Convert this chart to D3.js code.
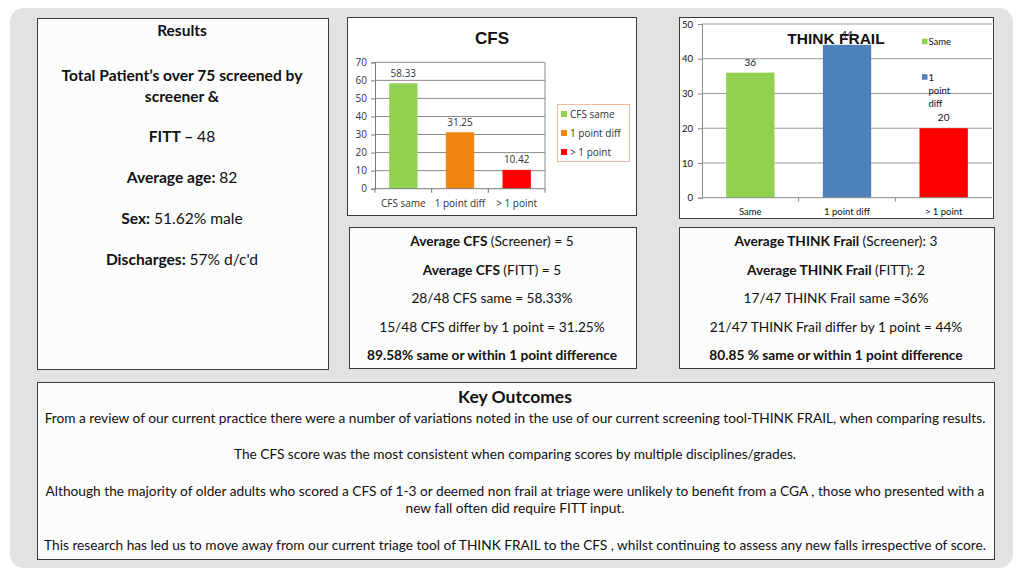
<!DOCTYPE html>
<html>
<head>
<meta charset="utf-8">
<script src="https://cdn.jsdelivr.net/npm/d3@7/dist/d3.min.js"></script>
<style>
  html, body { margin: 0; padding: 0; background: #fff; }
  svg { display: block; }
  .cal { font-family: Lato, "Open Sans", sans-serif; fill: #111; }
  .gothic { font-family: "Open Sans", "DejaVu Sans", sans-serif; fill: #333; }
</style>
</head>
<body>
<svg id="chart" width="1024" height="576"></svg>
<script>
// ---------- DATA ----------
const cfsCategories = ["CFS same", "1 point diff", "> 1 point"];
const cfsValues = [58.33, 31.25, 10.42];
const cfsTicks = [0, 10, 20, 30, 40, 50, 60, 70];
const cfsLegend = ["CFS same", "1 point diff", "> 1 point"];

const tfCategories = ["Same", "1 point diff", "> 1 point"];
const tfValues = [36, 44, 20];
const tfTicks = [0, 10, 20, 30, 40, 50];
const tfLegend = [["Same"], ["1", "point", "diff"]];

const resultsLines = [
  [{ b: true, t: "Total Patient\u2019s over 75 screened by" }],
  [{ b: true, t: "screener &" }],
  [{ b: true, t: "FITT \u2013 " }, { t: "48" }],
  [{ b: true, t: "Average age: " }, { t: "82" }],
  [{ b: true, t: "Sex: " }, { t: "51.62% male" }],
  [{ b: true, t: "Discharges: " }, { t: "57% d/c'd" }]
];
const cfsStats = [
  [{ b: true, t: "Average CFS " }, { t: "(Screener) = 5" }],
  [{ b: true, t: "Average CFS " }, { t: "(FITT) = 5" }],
  [{ t: "28/48 CFS same = 58.33%" }],
  [{ t: "15/48 CFS differ by 1 point = 31.25%" }],
  [{ b: true, t: "89.58% same or within 1 point difference" }]
];
const tfStats = [
  [{ b: true, t: "Average THINK Frail " }, { t: "(Screener): 3" }],
  [{ b: true, t: "Average THINK Frail " }, { t: "(FITT): 2" }],
  [{ t: "17/47 THINK Frail same =36%" }],
  [{ t: "21/47 THINK Frail differ by 1 point = 44%" }],
  [{ b: true, t: "80.85 % same or within 1 point difference" }]
];
const keyOutcomes = [
  "From a review of our current practice there were a number of variations noted in the use of our current screening tool-THINK FRAIL, when comparing results.",
  "The CFS score was the most consistent when comparing scores by multiple disciplines/grades.",
  "Although the majority of older adults who scored a CFS of 1-3 or deemed non frail at triage were unlikely to benefit from a CGA , those who presented with a",
  "new fall often did require FITT input.",
  "This research has led us to move away from our current triage tool of THINK FRAIL to the CFS , whilst continuing to assess any new falls irrespective of score."
];

const cfsColors = ["#92d050", "#f0840f", "#ff0000"];
const tfColors = ["#92d050", "#4f81bd", "#ff0000"];

// ---------- LAYOUT ----------
const svg = d3.select("#chart");
svg.append("rect").attr("width", 1024).attr("height", 576).attr("fill", "#fff");
svg.append("rect").attr("x", 10).attr("y", 8).attr("width", 1003).attr("height", 560)
  .attr("rx", 14).attr("fill", "#e2e2e2");

function box(x, y, w, h, fill) {
  svg.append("rect").attr("x", x + 0.5).attr("y", y + 0.5).attr("width", w).attr("height", h)
    .attr("fill", fill || "#fcfcfc").attr("stroke", "#3a3a3a").attr("stroke-width", 1);
}
box(37, 18, 291, 351);
box(347, 17, 289, 198, "#fff");
box(679, 17, 314, 201, "#fff");
box(349, 227, 287, 141);
box(679, 227, 315, 141);
box(37, 382, 957, 177);

function richLine(g, x, y, parts, size) {
  const t = g.append("text").attr("class", "cal").attr("x", x).attr("y", y)
    .attr("text-anchor", "middle").attr("dominant-baseline", "central")
    .style("font-size", size + "px");
  parts.forEach(p => t.append("tspan").text(p.t).style("font-weight", p.b ? 700 : 400));
  return t;
}

// Results box
const gRes = svg.append("g");
richLine(gRes, 182, 30, [{ b: true, t: "Results" }], 15.5);
const resY = [75, 96, 136, 177, 218, 259];
resultsLines.forEach((l, i) => richLine(gRes, 182, resY[i], l, 15.6));

// Stats boxes
const statY = [240, 269, 297, 326, 354];
cfsStats.forEach((l, i) => richLine(svg, 492, statY[i], l, 13.7));
tfStats.forEach((l, i) => richLine(svg, 836, statY[i], l, 13.7));

// Key outcomes
richLine(svg, 515, 396, [{ b: true, t: "Key Outcomes" }], 17.5);
const keyY = [417, 453, 490, 507, 544];
keyOutcomes.forEach((l, i) => richLine(svg, 515, keyY[i], [{ t: l }], 13.7));

// ---------- CFS CHART ----------
(function () {
  const x = d3.scaleBand().domain(cfsCategories).range([375, 545]).paddingInner(0.5).paddingOuter(0.25);
  const y = d3.scaleLinear().domain([0, 70]).range([188.7, 62.3]);
  const g = svg.append("g");
  g.selectAll("line.grid").data(cfsTicks.slice(1)).join("line")
    .attr("x1", 375).attr("x2", 545).attr("y1", d => y(d)).attr("y2", d => y(d))
    .attr("stroke", "#8a8a8a").attr("stroke-width", 1);
  g.append("line").attr("x1", 545).attr("x2", 545).attr("y1", y(70)).attr("y2", y(0))
    .attr("stroke", "#8a8a8a");
  g.selectAll("rect.bar").data(cfsValues).join("rect")
    .attr("x", (d, i) => x(cfsCategories[i])).attr("width", x.bandwidth())
    .attr("y", d => y(d)).attr("height", d => y(0) - y(d))
    .attr("fill", (d, i) => cfsColors[i]);
  g.selectAll("text.val").data(cfsValues).join("text").attr("class", "gothic")
    .attr("x", (d, i) => x(cfsCategories[i]) + x.bandwidth() / 2)
    .attr("y", d => y(d) - 10.5).attr("text-anchor", "middle").attr("dominant-baseline", "central")
    .style("font-size", "10px").text(d => d.toFixed(2));
  const ya = d3.axisLeft(y).tickValues(cfsTicks).tickSize(4).tickPadding(4);
  const ax = g.append("g").attr("transform", "translate(375,0)").call(ya);
  ax.select(".domain").attr("stroke", "#7a7a7a");
  ax.selectAll(".tick line").attr("stroke", "#7a7a7a");
  ax.selectAll("text").attr("class", "gothic").style("font-size", "10px").attr("fill", "#333");
  g.append("line").attr("x1", 375).attr("x2", 545).attr("y1", y(0)).attr("y2", y(0)).attr("stroke", "#7a7a7a");
  const bounds = cfsCategories.map(c => x(c) - x.step() * x.paddingInner() / 2).concat([545]);
  g.selectAll("line.xt").data(bounds).join("line")
    .attr("x1", d => d).attr("x2", d => d).attr("y1", y(0)).attr("y2", y(0) + 4).attr("stroke", "#7a7a7a");
  g.selectAll("text.cat").data(cfsCategories).join("text").attr("class", "gothic")
    .attr("x", d => x(d) + x.bandwidth() / 2).attr("y", 203)
    .attr("text-anchor", "middle").attr("dominant-baseline", "central")
    .style("font-size", "10px").text(d => d);
  g.append("text").attr("x", 492).attr("y", 38).attr("text-anchor", "middle").attr("dominant-baseline", "central")
    .style("font-family", "'Liberation Sans', Arial, sans-serif").style("font-weight", 700)
    .style("font-size", "17px").attr("fill", "#111").text("CFS");
  g.append("rect").attr("x", 557.5).attr("y", 104.5).attr("width", 72).attr("height", 57)
    .attr("fill", "#fff").attr("stroke", "#f4b9a0");
  cfsLegend.forEach((l, i) => {
    const ly = 114 + i * 19;
    g.append("rect").attr("x", 561).attr("y", ly - 3).attr("width", 6).attr("height", 6).attr("fill", cfsColors[i]);
    g.append("text").attr("class", "gothic").attr("x", 570).attr("y", ly)
      .attr("dominant-baseline", "central").style("font-size", "10px").text(l);
  });
})();

// ---------- THINK FRAIL CHART ----------
(function () {
  const x = d3.scaleBand().domain(tfCategories).range([702, 992]).paddingInner(0.5).paddingOuter(0.25);
  const y = d3.scaleLinear().domain([0, 50]).range([197.7, 24]);
  const g = svg.append("g");
  g.selectAll("line.grid").data(tfTicks.slice(1)).join("line")
    .attr("x1", 702).attr("x2", 992).attr("y1", d => y(d)).attr("y2", d => y(d))
    .attr("stroke", "#9a9a9a");
  g.selectAll("rect.bar").data(tfValues).join("rect")
    .attr("x", (d, i) => x(tfCategories[i])).attr("width", x.bandwidth())
    .attr("y", d => y(d)).attr("height", d => y(0) - y(d))
    .attr("fill", (d, i) => tfColors[i]);
  const ya = d3.axisLeft(y).tickValues(tfTicks).tickSize(4).tickPadding(5);
  const ax = g.append("g").attr("transform", "translate(702,0)").call(ya);
  ax.select(".domain").attr("stroke", "#8a8a8a");
  ax.selectAll(".tick line").attr("stroke", "#8a8a8a");
  ax.selectAll("text").attr("class", "cal").style("font-size", "9.5px").attr("fill", "#111");
  g.append("line").attr("x1", 702).attr("x2", 992).attr("y1", y(0)).attr("y2", y(0)).attr("stroke", "#8a8a8a");
  const bounds = tfCategories.slice(1).map(c => x(c) - x.step() * x.paddingInner() / 2);
  g.selectAll("line.xt").data(bounds).join("line")
    .attr("x1", d => d).attr("x2", d => d).attr("y1", y(0)).attr("y2", y(0) + 4).attr("stroke", "#8a8a8a");
  g.selectAll("text.cat").data(tfCategories).join("text").attr("class", "cal")
    .attr("x", d => x(d) + x.bandwidth() / 2).attr("y", 211.5)
    .attr("text-anchor", "middle").attr("dominant-baseline", "central")
    .style("font-size", "9.5px").text(d => d);
  g.append("text").attr("x", 836).attr("y", 38).attr("text-anchor", "middle").attr("dominant-baseline", "central")
    .style("font-family", "'Liberation Sans', Arial, sans-serif").style("font-weight", 700)
    .style("font-size", "15.5px").attr("fill", "#111").text("THINK FRAIL");
  g.selectAll("text.val").data(tfValues).join("text").attr("class", "cal")
    .attr("x", (d, i) => x(tfCategories[i]) + x.bandwidth() / 2)
    .attr("y", d => y(d) - 11).attr("text-anchor", "middle").attr("dominant-baseline", "central")
    .style("font-size", "10px").text(d => d);
  tfLegend.forEach((lines, i) => {
    const ly = 41.7 + i * 35.5;
    g.append("rect").attr("x", 922).attr("y", ly - 3).attr("width", 5.5).attr("height", 5.5).attr("fill", tfColors[i]);
    lines.forEach((t, j) => {
      g.append("text").attr("class", "cal").attr("x", 928.5).attr("y", ly + j * 13.3)
        .attr("dominant-baseline", "central").style("font-size", "9.5px").text(t);
    });
  });
})();
</script>
</body>
</html>
